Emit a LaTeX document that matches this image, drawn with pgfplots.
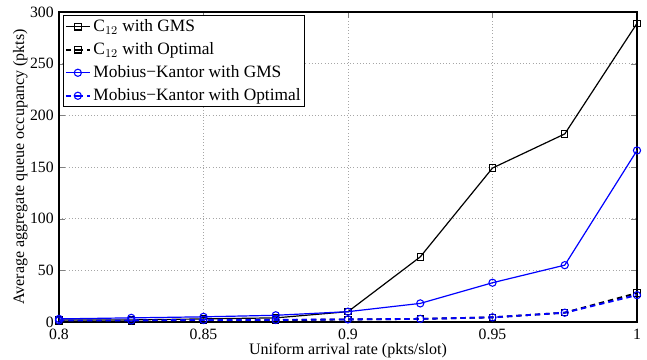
\documentclass[border=0pt]{standalone}
\usepackage{pgfplots}
\pgfplotsset{compat=1.18}
\usepackage{fontspec}
\setmainfont{Liberation Serif}
\definecolor{mblue}{RGB}{0,0,255}
\begin{document}
\fontsize{11.5}{14}\selectfont
\begin{tikzpicture}
\useasboundingbox (-44.25pt,-28.5pt) rectangle (441pt,241.5pt);
\begin{axis}[
  scale only axis,
  width=433.5pt, height=232.5pt,
  xmin=0.8, xmax=1, ymin=0, ymax=300,
  xtick={0.8,0.85,0.9,0.95,1},
  xticklabels={0.8,0.85,0.9,0.95,1},
  ytick={0,50,100,150,200,250,300},
  /pgf/number format/assume math mode=true,
  tick label style={font=\fontsize{11.8}{14}\selectfont},
  label style={font=\fontsize{12}{14}\selectfont},
  xticklabel style={yshift=-1pt},
  tick align=inside, tick pos=both,
  major tick length=4.5pt,
  grid=major,
  major grid style={dotted, gray!70, line width=0.5pt},
  axis line style={line width=0.8pt},
  xlabel={Uniform arrival rate (pkts/slot)},
  ylabel={Average aggregate queue occupancy (pkts)},
  xlabel style={yshift=5pt},
  ylabel style={yshift=-6pt},
  legend style={at={(0.007,0.99)}, anchor=north west, draw=black, line width=0.8pt,
    font=\fontsize{13}{14}\selectfont, inner sep=1pt, row sep=2.5pt, cells={anchor=west}},
  legend cell align=left,
  legend image code/.code={\draw[#1] (0pt,0pt) -- (9pt,0pt) plot coordinates {(9pt,0pt)} -- (18pt,0pt);},
]
\addplot[black, line width=0.9pt, mark=square, mark size=2.4pt, mark options={solid, line width=0.8pt}]
  coordinates {(0.8,2) (0.825,2) (0.85,3) (0.875,4) (0.9,10) (0.925,63) (0.95,149) (0.975,182) (1.0,289)};
\addlegendentry{C$_{12}$ with GMS}
\addplot[black, line width=1.4pt, dash pattern=on 4pt off 3pt, mark=square, mark size=2.4pt, mark options={solid, line width=0.8pt}]
  coordinates {(0.8,1) (0.825,1) (0.85,1.5) (0.875,1.8) (0.9,2.5) (0.925,3) (0.95,4.5) (0.975,9) (1.0,28)};
\addlegendentry{C$_{12}$ with Optimal}
\addplot[mblue, line width=0.9pt, mark=o, mark size=2.7pt, mark options={solid, line width=0.8pt}]
  coordinates {(0.8,3) (0.825,4) (0.85,5) (0.875,6.5) (0.9,10) (0.925,18) (0.95,38) (0.975,55) (1.0,166)};
\addlegendentry{Mobius−Kantor with GMS}
\addplot[mblue, line width=1.4pt, dash pattern=on 4pt off 3pt, mark=o, mark size=2.7pt, mark options={solid, line width=0.8pt}]
  coordinates {(0.8,1.5) (0.825,1.5) (0.85,2) (0.875,2) (0.9,2.5) (0.925,3) (0.95,4.5) (0.975,9) (1.0,26)};
\addlegendentry{Mobius−Kantor with Optimal}
\end{axis}
\end{tikzpicture}
\end{document}
